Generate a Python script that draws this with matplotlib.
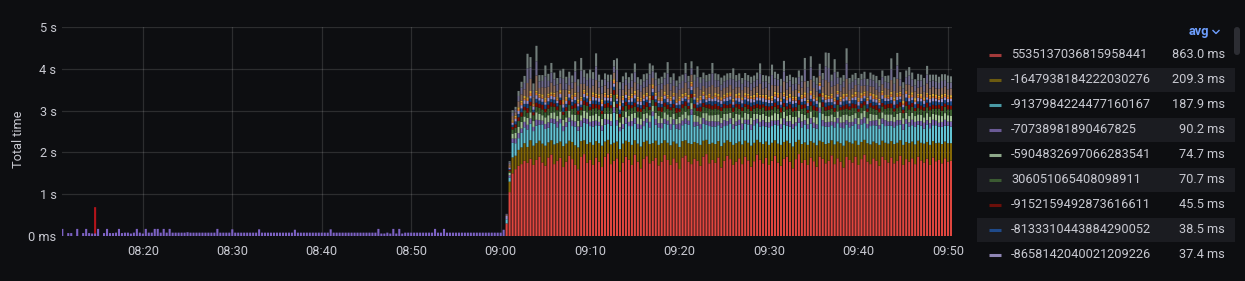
import numpy as np
import pandas as pd
import matplotlib
matplotlib.use("Agg")
import matplotlib.pyplot as plt
import matplotlib.dates as mdates
from matplotlib.patches import Rectangle, FancyBboxPatch

plt.rcParams['font.family'] = ['Roboto', 'DejaVu Sans']

BG = "#0d0e11"
TXT = "#c8c9d1"

# quiet period: one bar every 20 s, mostly the purple series
idle_start = "2023-01-01 08:11:00"
idle_purple = [
    170, 0, 70, 70, 0, 170, 0, 70, 170, 70, 60, 60, 170, 0, 70, 170, 70, 70, 80, 170, 70,
    80, 80, 60, 80, 170, 80, 60, 170, 80, 80, 170, 170, 80, 170, 80, 170, 80, 80, 80, 80,
    80, 90, 80, 80, 80, 80, 80, 80, 80, 80, 80, 170, 80, 80, 80, 80, 160, 80, 80, 80,
    80, 80, 80, 80, 80, 160, 80, 80, 80, 80, 80, 80, 80, 80, 80, 80, 80, 150, 80, 80,
    80, 80, 80, 80, 80, 80, 80, 80, 80, 160, 80, 80, 80, 80, 80, 80, 80, 80, 80, 80,
    80, 80, 80, 80, 80, 170, 60, 60, 80, 60, 170, 60, 170, 60, 80, 80, 80, 80, 80, 80,
    80, 80, 80, 80, 170, 80, 80, 170, 80, 80, 80, 80, 80, 80, 80, 80, 80, 80, 80, 80,
    80, 80, 80, 80, 80, 80, 80, 150,
]
spike_time = "2023-01-01 08:14:40"
spike_ms = 690

# busy period: stacked series, ms per 20 s bar from 09:00:40
active_start = "2023-01-01 09:00:40"
red = [
    300, 1050, 1500, 1600, 1680, 1720, 1800, 1750, 1850, 1700,
    1820, 1900, 1760, 1680, 1880, 1950, 1720, 1800, 1870, 1650,
    1780, 1920, 1840, 1700, 1600, 1890, 1960, 1750, 1820, 1700,
    1880, 1780, 1650, 1900, 1980, 1720, 1800, 1860, 1540, 1760,
    1900, 1830, 1700, 1950, 1780, 1620, 1850, 1910, 1740, 1800,
    1870, 1690, 1780, 1940, 1820, 1700, 1860, 1760, 1600, 1880,
    1930, 1780, 1720, 1850, 1800, 1680, 1900, 1960, 1740, 1820,
    1750, 1880, 1640, 1800, 1920, 1840, 1700, 1780, 1860, 1720,
    1900, 1810, 1660, 1790, 1950, 1830, 1740, 1870, 1700, 1800,
    1920, 1760, 1680, 1850, 1900, 1780, 1620, 1840, 1960, 1750,
    1820, 1700, 1880, 1790, 1660, 1900, 1850, 1740, 1800, 1930,
    1720, 1860, 1780, 1640, 1890, 1820, 1760, 1900, 1700, 1840,
    1950, 1780, 1720, 1860, 1800, 1680, 1900, 1820, 1760, 1880,
    1740, 1800, 1920, 1700, 1840, 1780, 1860, 1720, 1900, 1810,
    1760, 1850, 1700, 1880, 1790, 1820, 1740, 1860, 1780, 1800,
]
olive = [
    0, 250, 380, 320, 380, 400, 420, 380, 440, 460,
    400, 380, 450, 480, 360, 340, 470, 420, 390, 500,
    430, 360, 410, 470, 520, 380, 330, 450, 420, 480,
    390, 440, 510, 360, 320, 470, 430, 400, 540, 450,
    380, 420, 480, 340, 430, 520, 400, 370, 460, 420,
    410, 490, 440, 350, 410, 470, 400, 450, 530, 390,
    360, 440, 480, 400, 420, 500, 380, 340, 460, 410,
    450, 390, 510, 430, 370, 410, 480, 440, 400, 470,
    380, 420, 500, 440, 350, 410, 460, 390, 480, 430,
    370, 450, 500, 400, 380, 440, 520, 410, 340, 450,
    420, 480, 390, 440, 510, 380, 400, 460, 420, 360,
    470, 400, 440, 520, 390, 420, 450, 380, 480, 410,
    350, 440, 470, 400, 420, 500, 380, 410, 450, 390,
    460, 430, 370, 480, 410, 440, 400, 470, 380, 420,
    450, 400, 480, 390, 430, 410, 460, 400, 440, 420,
]
cyan = [
    100, 100, 350, 300, 280, 350, 380, 420, 400, 350,
    420, 380, 460, 400, 350, 420, 500, 380, 440, 360,
    400, 460, 380, 450, 400, 350, 420, 480, 390, 440,
    380, 420, 360, 400, 380, 450, 720, 390, 430, 360,
    410, 380, 450, 400, 360, 420, 380, 440, 400, 650,
    380, 420, 360, 400, 440, 380, 410, 360, 420, 380,
    400, 440, 700, 370, 420, 380, 400, 360, 430, 390,
    420, 380, 440, 400, 360, 430, 380, 420, 400, 360,
    410, 440, 380, 420, 400, 380, 430, 360, 420, 400,
    380, 440, 390, 420, 360, 400, 430, 380, 410, 400,
    430, 380, 420, 360, 400, 680, 380, 420, 390, 360,
    410, 440, 380, 420, 390, 360, 430, 400, 380, 420,
    400, 360, 440, 390, 420, 380, 410, 400, 430, 370,
    400, 420, 380, 360, 430, 400, 390, 420, 380, 410,
    360, 420, 400, 380, 430, 390, 410, 380, 420, 400,
]
purple = [
    0, 50, 100, 110, 120, 100, 130, 110, 120, 100, 140, 110, 90, 120, 130,
    100, 110, 140, 100, 120, 110, 90, 130, 120, 100, 140, 110, 120, 100, 130,
    110, 90, 120, 140, 100, 110, 130, 120, 90, 110, 140, 100, 120, 130, 110,
    100, 120, 90, 130, 110, 140, 100, 120, 110, 90, 130, 120, 100, 140, 110,
    120, 100, 130, 110, 90, 120, 140, 100, 110, 130, 120, 90, 110, 140, 100,
    130, 110, 100, 120, 140, 90, 110, 130, 120, 100, 110, 140, 100, 120, 130,
    90, 120, 110, 140, 100, 130, 110, 90, 120, 140, 100, 110, 130, 120, 100,
    110, 140, 100, 120, 90, 130, 120, 110, 140, 100, 120, 90, 130, 110, 120,
    140, 100, 120, 110, 130, 90, 120, 140, 100, 110, 130, 120, 100, 140, 110,
    100, 130, 120, 90, 110, 140, 100, 120, 130, 110, 90, 120, 140, 100, 120,
]
light_green = [
    0, 60, 120, 140, 150, 160, 130, 170, 150, 140, 180, 150, 130, 160, 170,
    140, 160, 130, 180, 150, 120, 170, 150, 160, 140, 130, 180, 160, 150, 140,
    170, 140, 160, 130, 150, 180, 140, 160, 120, 170, 150, 140, 180, 130, 160,
    150, 170, 130, 160, 140, 150, 180, 120, 160, 150, 170, 140, 130, 160, 150,
    160, 130, 150, 170, 140, 160, 120, 180, 150, 140, 160, 170, 130, 150, 180,
    140, 160, 180, 130, 150, 170, 140, 160, 150, 120, 170, 150, 160, 140, 130,
    180, 150, 140, 160, 130, 150, 170, 140, 160, 180, 130, 150, 160, 140, 170,
    130, 160, 150, 140, 170, 120, 160, 150, 180, 140, 150, 170, 130, 160, 150,
    160, 140, 170, 150, 130, 160, 150, 140, 170, 160, 120, 150, 180, 140, 160,
    150, 170, 140, 160, 150, 130, 170, 160, 140, 150, 180, 140, 160, 150, 140,
]
dark_green = [
    0, 40, 100, 120, 140, 130, 150, 120, 160, 140, 130, 150, 140, 120, 160,
    150, 130, 140, 160, 120, 150, 140, 130, 160, 150, 120, 140, 150, 130, 160,
    130, 160, 120, 140, 150, 130, 160, 140, 120, 150, 140, 160, 130, 150, 140,
    160, 120, 150, 130, 140, 160, 120, 150, 140, 130, 160, 140, 150, 120, 150,
    140, 150, 130, 160, 120, 140, 150, 130, 160, 140, 150, 120, 160, 140, 130,
    120, 140, 160, 130, 150, 140, 120, 160, 130, 150, 140, 160, 120, 150, 140,
    150, 130, 140, 120, 160, 150, 130, 140, 150, 120, 160, 130, 140, 160, 150,
    140, 160, 130, 150, 140, 120, 160, 150, 130, 140, 150, 160, 120, 140, 130,
    130, 150, 160, 140, 120, 150, 140, 130, 160, 150, 130, 140, 150, 120, 160,
    160, 140, 120, 150, 130, 160, 140, 150, 120, 140, 160, 130, 150, 140, 150,
]
dark_red = [
    0, 30, 60, 80, 90, 100, 80, 110, 90, 70, 100, 90, 110, 80, 90,
    100, 80, 90, 110, 70, 90, 100, 80, 110, 90, 70, 100, 90, 80, 110,
    90, 110, 80, 90, 100, 70, 110, 90, 80, 100, 90, 110, 70, 90, 100,
    80, 90, 110, 70, 100, 90, 80, 110, 90, 100, 70, 90, 110, 80, 90,
    110, 70, 90, 100, 80, 110, 90, 70, 100, 90, 110, 80, 90, 100, 70,
    90, 100, 80, 110, 90, 70, 100, 110, 80, 90, 100, 70, 110, 90, 80,
    100, 80, 110, 90, 70, 100, 90, 80, 110, 100, 90, 70, 100, 110, 90,
    70, 110, 90, 100, 80, 90, 110, 70, 90, 100, 80, 110, 90, 70, 100,
    90, 80, 100, 70, 110, 90, 80, 100, 90, 110, 70, 90, 100, 80, 110,
    110, 90, 70, 100, 90, 80, 110, 90, 100, 70, 90, 110, 80, 100, 90,
]
blue = [
    0, 20, 50, 70, 80, 90, 70, 100, 80, 60, 90, 80, 70, 100, 80,
    70, 90, 80, 60, 100, 80, 70, 90, 80, 100, 60, 80, 90, 70, 80,
    90, 70, 100, 80, 60, 90, 80, 70, 100, 80, 90, 60, 80, 100, 70,
    80, 100, 60, 90, 80, 70, 100, 80, 90, 60, 80, 100, 70, 90, 80,
    60, 80, 90, 100, 70, 80, 90, 60, 80, 100, 70, 90, 80, 60, 100,
    100, 70, 80, 60, 90, 100, 80, 90, 70, 80, 100, 60, 90, 80, 70,
    80, 90, 70, 100, 80, 60, 90, 100, 80, 70, 80, 90, 60, 100, 80,
    90, 60, 100, 80, 70, 90, 80, 60, 100, 90, 70, 80, 100, 80, 60,
    70, 100, 80, 90, 60, 80, 100, 90, 70, 80, 90, 100, 70, 60, 90,
    80, 70, 90, 60, 100, 80, 70, 90, 80, 100, 60, 90, 80, 70, 100,
]
lavender = [
    80, 40, 50, 60, 70, 80, 90, 70, 60, 80, 90, 70, 80, 60, 90,
    80, 70, 60, 90, 80, 70, 90, 60, 80, 70, 90, 80, 60, 70, 90,
    70, 90, 60, 80, 70, 90, 80, 60, 90, 70, 80, 60, 90, 80, 70,
    90, 60, 80, 70, 90, 80, 60, 70, 80, 90, 70, 80, 60, 90, 70,
    60, 80, 90, 70, 60, 80, 90, 70, 80, 60, 90, 70, 80, 70, 90,
    80, 70, 60, 90, 80, 60, 70, 90, 70, 80, 60, 90, 70, 80, 60,
    70, 90, 80, 60, 70, 90, 80, 60, 90, 70, 80, 70, 90, 60, 80,
    90, 60, 70, 80, 90, 70, 60, 80, 70, 90, 70, 60, 80, 90, 70,
    60, 80, 90, 70, 80, 60, 90, 70, 60, 80, 90, 80, 70, 60, 90,
    80, 70, 60, 90, 70, 80, 60, 90, 80, 70, 60, 90, 70, 80, 60,
]
orange = [
    0, 20, 30, 40, 50, 60, 40, 50, 70, 40, 60, 50, 40, 60, 50,
    40, 60, 50, 30, 60, 50, 40, 70, 50, 40, 60, 50, 30, 60, 50,
    60, 40, 50, 70, 40, 50, 60, 40, 50, 60, 30, 50, 60, 40, 70,
    50, 60, 40, 50, 60, 30, 50, 70, 40, 50, 60, 40, 50, 60, 40,
    40, 50, 70, 40, 50, 60, 40, 50, 60, 30, 50, 70, 40, 50, 60,
    60, 40, 50, 60, 30, 50, 70, 40, 50, 60, 40, 50, 60, 40, 50,
    50, 70, 40, 50, 60, 40, 50, 60, 30, 50, 70, 40, 50, 60, 40,
    40, 50, 60, 40, 70, 50, 40, 50, 60, 40, 50, 30, 60, 50, 70,
    60, 40, 50, 70, 40, 50, 60, 30, 50, 60, 40, 50, 70, 40, 50,
    50, 60, 40, 50, 60, 40, 70, 50, 40, 60, 50, 40, 50, 60, 40,
]
yellow = [
    0, 10, 30, 40, 40, 50, 60, 40, 50, 30, 50, 40, 60, 40, 50,
    50, 40, 30, 60, 40, 50, 40, 30, 50, 60, 40, 50, 40, 30, 60,
    40, 50, 60, 40, 30, 50, 40, 60, 40, 50, 30, 40, 50, 60, 40,
    30, 40, 50, 60, 40, 50, 30, 40, 60, 40, 50, 40, 30, 50, 60,
    50, 60, 40, 30, 50, 40, 60, 50, 40, 30, 50, 60, 40, 50, 40,
    40, 30, 50, 60, 40, 50, 40, 30, 60, 50, 40, 30, 50, 40, 60,
    60, 40, 30, 50, 40, 60, 50, 40, 30, 50, 60, 40, 50, 30, 40,
    40, 50, 60, 40, 50, 30, 40, 60, 50, 40, 30, 50, 60, 40, 50,
    50, 40, 30, 50, 60, 40, 50, 40, 30, 60, 50, 40, 40, 50, 30,
    30, 60, 50, 40, 50, 40, 30, 50, 60, 40, 50, 60, 40, 30, 50,
]
top_a = [
    30, 50, 100, 80, 140, 150, 160, 340, 290, 150, 360, 140, 170, 250, 160,
    230, 170, 140, 160, 250, 170, 130, 160, 250, 170, 310, 140, 170, 220, 160,
    320, 160, 140, 170, 150, 130, 160, 300, 150, 140, 170, 160, 150, 210, 170,
    150, 160, 140, 270, 150, 160, 130, 170, 150, 260, 140, 170, 150, 160, 140,
    240, 150, 170, 140, 260, 150, 130, 170, 160, 270, 140, 170, 160, 150, 140,
    170, 230, 160, 140, 170, 150, 160, 130, 170, 150, 260, 140, 170, 150, 260,
    150, 170, 140, 260, 150, 170, 130, 160, 150, 170, 260, 160, 270, 170, 140,
    160, 150, 350, 320, 160, 300, 170, 130, 160, 350, 170, 140, 160, 150, 170,
    140, 160, 150, 170, 130, 160, 150, 170, 140, 280, 150, 340, 140, 160, 150,
    240, 140, 160, 150, 170, 130, 230, 150, 170, 140, 160, 150, 170, 140, 160,
]
top_b = [
    20, 40, 80, 70, 130, 160, 150, 350, 270, 170, 340, 160, 150, 270, 140,
    240, 150, 170, 140, 260, 150, 170, 140, 260, 150, 320, 160, 140, 240, 150,
    330, 140, 170, 150, 160, 170, 140, 280, 160, 170, 140, 150, 160, 240, 140,
    160, 150, 170, 240, 160, 150, 170, 140, 160, 250, 170, 140, 160, 150, 170,
    220, 160, 150, 170, 240, 160, 170, 150, 140, 280, 170, 150, 140, 160, 170,
    150, 240, 140, 170, 150, 160, 140, 170, 150, 160, 240, 170, 150, 160, 240,
    170, 150, 160, 240, 170, 150, 160, 140, 170, 150, 280, 140, 290, 150, 160,
    140, 170, 330, 340, 140, 320, 150, 160, 140, 370, 150, 160, 140, 170, 150,
    160, 140, 170, 150, 160, 140, 170, 150, 160, 260, 170, 320, 160, 140, 170,
    220, 160, 140, 170, 150, 160, 210, 170, 150, 160, 140, 170, 150, 160, 140,
]
top_c = [
    0, 30, 60, 60, 120, 140, 170, 350, 250, 160, 370, 150, 140, 260, 170,
    230, 160, 150, 170, 240, 160, 150, 170, 240, 160, 300, 170, 160, 200, 170,
    310, 170, 160, 140, 170, 150, 160, 280, 170, 150, 160, 140, 170, 210, 160,
    140, 170, 150, 260, 140, 170, 150, 160, 140, 270, 150, 160, 140, 170, 150,
    250, 140, 170, 150, 260, 140, 150, 160, 170, 250, 160, 150, 170, 140, 160,
    140, 260, 150, 160, 140, 170, 150, 160, 140, 170, 250, 160, 140, 170, 250,
    160, 140, 170, 250, 160, 140, 170, 150, 160, 140, 280, 150, 270, 140, 170,
    150, 160, 330, 360, 150, 310, 140, 170, 150, 360, 140, 170, 150, 160, 140,
    170, 150, 160, 140, 170, 150, 160, 140, 170, 260, 160, 300, 170, 150, 160,
    200, 170, 150, 160, 140, 170, 210, 160, 140, 170, 150, 160, 140, 170, 150,
]

stack = [red, olive, cyan, purple, light_green, dark_green, dark_red, blue,
         lavender, orange, yellow, top_a, top_b, top_c]
stack_colors = ["#E0463F", "#846806", "#62c3d3", "#7d68b3", "#a3c497", "#3d6332",
                "#850f04", "#1b4a88", "#9d92cc", "#e07c38", "#d9ab36",
                "#8f6f60", "#6f6a8c", "#727e7b"]
for s in stack:
    assert len(s) == 150, len(s)

legend_names = ["5535137036815958441", "-1647938184222030276", "-9137984224477160167",
                "-70738981890467825", "-5904832697066283541", "306051065408098911",
                "-9152159492873616611", "-8133310443884290052", "-8658142040021209226"]
legend_avgs = ["863.0 ms", "209.3 ms", "187.9 ms", "90.2 ms", "74.7 ms",
               "70.7 ms", "45.5 ms", "38.5 ms", "37.4 ms"]
legend_colors = ["#a33a3a", "#6b5a10", "#4a9aa5", "#6a5a95", "#8ea88a",
                 "#3b5a32", "#6b0f0a", "#1f4a8a", "#8f86b5"]

ytick_vals = [0, 1, 2, 3, 4, 5]
ytick_labels = ["0 ms", "1 s", "2 s", "3 s", "4 s", "5 s"]
xtick_times = ["08:20", "08:30", "08:40", "08:50", "09:00", "09:10",
               "09:20", "09:30", "09:40", "09:50"]

W, H = 1245, 281
fig = plt.figure(figsize=(W / 100, H / 100), dpi=100, facecolor=BG)
ax = fig.add_axes([62 / W, 45 / H, 890 / W, 209 / H])
ax.set_facecolor(BG)

day = "2023-01-01 "
t_idle = mdates.date2num(pd.date_range(idle_start, periods=len(idle_purple), freq="20s"))
t_act = mdates.date2num(pd.date_range(active_start, periods=len(red), freq="20s"))
bw = 14 / 86400

ax.bar(mdates.date2num(pd.Timestamp(spike_time)), spike_ms / 1000, bw,
       color="#b3141a", linewidth=0, zorder=2, snap=False)
ax.bar(t_idle, np.array(idle_purple) / 1000, bw, color="#7d62c4", linewidth=0,
       zorder=2, snap=False)

bottom = np.zeros(len(red))
for vals, c in zip(stack, stack_colors):
    v = np.array(vals) / 1000
    ax.bar(t_act, v, bw, bottom=bottom, color=c, linewidth=0, zorder=2, snap=False)
    bottom += v

ax.set_xlim(mdates.date2num(pd.Timestamp(day + "08:10:58")),
            mdates.date2num(pd.Timestamp(day + "09:50:27")))
ax.set_ylim(0, 5)
ax.set_yticks(ytick_vals)
ax.set_yticklabels(ytick_labels)
ax.set_xticks([mdates.date2num(pd.Timestamp(day + t)) for t in xtick_times])
ax.set_xticklabels(xtick_times)
ax.tick_params(length=0, colors=TXT, labelsize=9.2)
ax.tick_params(axis="y", pad=4)
ax.tick_params(axis="x", pad=6.5)
ax.grid(True, color="#ffffff", alpha=0.13, linewidth=0.9, zorder=3)
for sp in ax.spines.values():
    sp.set_visible(False)

fig.text(18 / W, 1 - 139 / H, "Total time", rotation=90, color=TXT,
         fontsize=9.2, ha="center", va="center")

# legend table on the right
lg = fig.add_axes([975 / W, 23 / H, 270 / W, 236 / H])
lg.set_xlim(975, 1245)
lg.set_ylim(259, 23)
lg.axis("off")
lg.text(1209, 33, "avg", color="#6E9FFF", fontsize=9.2, fontweight="bold",
        ha="right", va="center")
lg.plot([1213, 1216, 1219], [31.5, 34.5, 31.5], color="#6E9FFF", lw=1)
lg.add_patch(FancyBboxPatch((1234, 28), 6, 28, boxstyle="round,pad=0,rounding_size=3",
                            facecolor="#2c2d33", edgecolor="none"))
for i, (name, avg, c) in enumerate(zip(legend_names, legend_avgs, legend_colors)):
    yc = 55.7 + 25 * i
    if i % 2 == 1:
        lg.add_patch(Rectangle((977, yc - 12), 258, 24, facecolor="#1b1c21",
                               edgecolor="none", zorder=0))
    lg.plot([989, 1001], [yc, yc], color=c, lw=2.2, solid_capstyle="butt", zorder=2)
    lg.text(1011, yc, name, color=TXT, fontsize=9.2, ha="left", va="center",
            clip_on=True)
    lg.text(1225, yc, avg, color=TXT, fontsize=9.2, ha="right", va="center",
            clip_on=True)

fig.savefig("out.png", dpi=100, facecolor=BG)
